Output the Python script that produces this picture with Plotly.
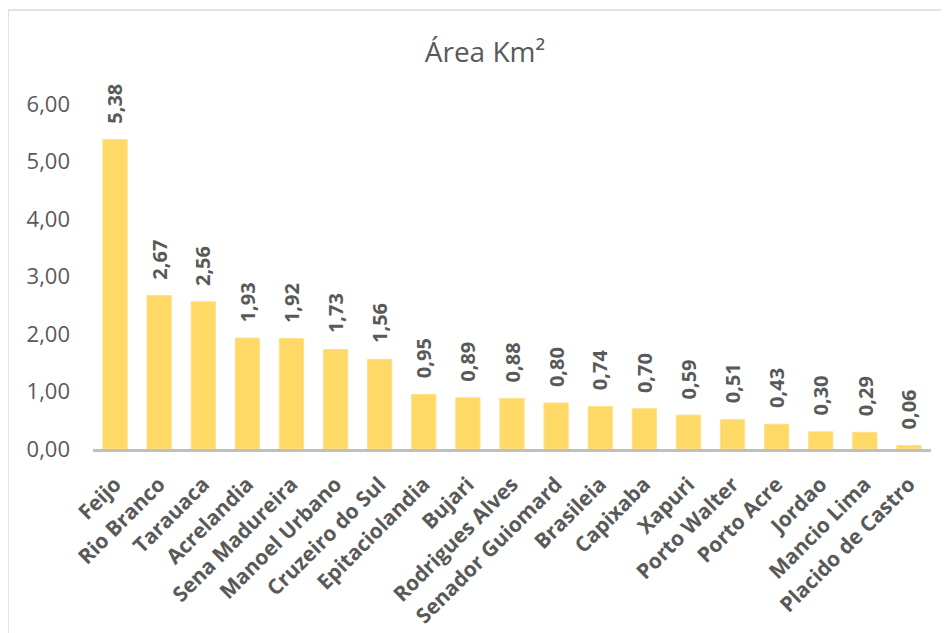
import plotly.graph_objects as go

categories = ["Feijo", "Rio Branco", "Tarauaca", "Acrelandia", "Sena Madureira",
              "Manoel Urbano", "Cruzeiro do Sul", "Epitaciolandia", "Bujari",
              "Rodrigues Alves", "Senador Guiomard", "Brasileia", "Capixaba",
              "Xapuri", "Porto Walter", "Porto Acre", "Jordao", "Mancio Lima",
              "Placido de Castro"]
values = [5.38, 2.67, 2.56, 1.93, 1.92, 1.73, 1.56, 0.95, 0.89, 0.88, 0.80,
          0.74, 0.70, 0.59, 0.51, 0.43, 0.30, 0.29, 0.06]
y_ticks = [0, 1, 2, 3, 4, 5, 6]

text_color = "#595959"
font_family = "Open Sans, Noto Sans, sans-serif"

fig = go.Figure()
fig.add_trace(go.Bar(
    x=categories, y=values,
    marker=dict(color="#FFD966", line=dict(color="#FFE08A", width=1)),
    hoverinfo="x+y",
))

annotations = []
for c, v in zip(categories, values):
    annotations.append(dict(
        x=c, y=v, xref="x", yref="y",
        text=f"{v:.2f}".replace(".", ","),
        textangle=-90, showarrow=False,
        yanchor="bottom", xanchor="center", yshift=14,
        font=dict(family=font_family, size=20, color=text_color, weight="bold"),
    ))

W, H = 949, 633
L, R, T, B = 85, 26, 96, 192
pw, ph = W - L - R, H - T - B

fig.update_layout(
    width=W, height=H,
    margin=dict(l=L, r=R, t=T, b=B),
    paper_bgcolor="white", plot_bgcolor="white",
    separators=",.",
    showlegend=False,
    bargap=0.45,
    title=dict(text="Área Km²", x=(485 - 8) / W, xanchor="center",
               y=1 - 44 / H, yanchor="middle",
               font=dict(family=font_family, size=28, color=text_color)),
    annotations=annotations,
    shapes=[dict(type="rect", xref="paper", yref="paper",
                 x0=(0 - L) / pw, x1=(W + 20 - L) / pw,
                 y0=(H - B - (H + 20)) / ph, y1=(H - B - 2) / ph,
                 line=dict(color="#D9D9D9", width=1.5), fillcolor="rgba(0,0,0,0)",
                 layer="below")],
)
fig.update_xaxes(
    showline=True, linecolor="#BFBFBF", linewidth=2.5,
    tickangle=-45, ticks="", showgrid=False,
    ticklabelstandoff=12,
    tickfont=dict(family=font_family, size=21, color=text_color, weight="bold"),
)
fig.update_yaxes(
    range=[0, 6], tickvals=y_ticks, tickformat=".2f",
    showgrid=False, zeroline=False, showline=False, ticks="",
    tickfont=dict(family=font_family, size=22, color=text_color),
    ticklabelstandoff=22,
)

fig.write_html("out.html")
